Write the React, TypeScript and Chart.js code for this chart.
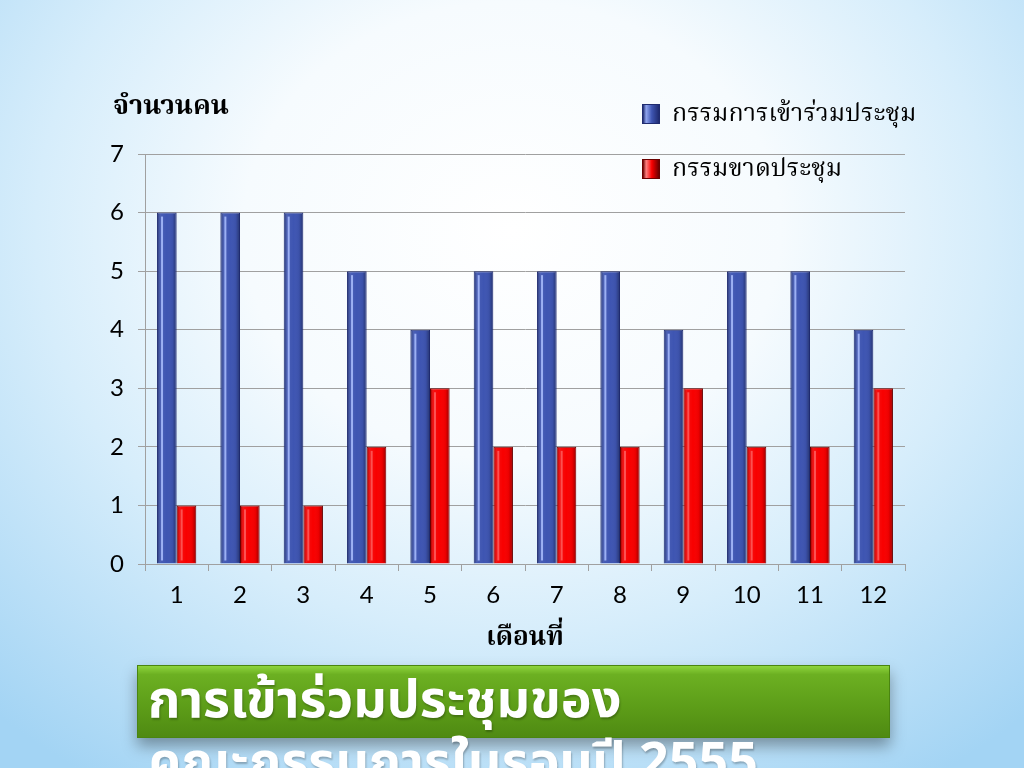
import React, { useEffect, useRef } from "react";
import { Chart, registerables } from "chart.js";

Chart.register(...registerables);

const months = ["1", "2", "3", "4", "5", "6", "7", "8", "9", "10", "11", "12"];
const attended = [6, 6, 6, 5, 4, 5, 5, 5, 4, 5, 5, 4];
const absent = [1, 1, 1, 2, 3, 2, 2, 2, 3, 2, 2, 3];
const seriesNames = ["กรรมการเข้าร่วมประชุม", "กรรมขาดประชุม"];
const yTitle = "จำนวนคน";
const xTitle = "เดือนที่";
const bannerLines = ["การเข้าร่วมประชุมของ", "คณะกรรมการในรอบปี 2555"];
const yMin = 0;
const yMax = 7;

const thaiSerif = '"Noto Serif Thai", "Norasi", "Garuda", "Loma", "DejaVu Serif", serif';
const thaiSans = '"Noto Sans Thai", "Loma", "Garuda", "Noto Sans", "DejaVu Sans", sans-serif';
const numFont = 'Lato, "Open Sans", "Liberation Sans", sans-serif';

const bevelPlugin = {
  id: "bevel",
  afterDatasetsDraw(chart: any) {
    const ctx = chart.ctx;
    chart.data.datasets.forEach((_ds: any, di: number) => {
      const meta = chart.getDatasetMeta(di);
      meta.data.forEach((bar: any) => {
        const { x, y, base, width } = bar.getProps(["x", "y", "base", "width"], true);
        const l = x - width / 2 + 1;
        const w = width - 2;
        const t = y + 1;
        const h = base - y - 2;
        if (h <= 0) return;
        ctx.save();
        const g = ctx.createLinearGradient(l, 0, l + w, 0);
        g.addColorStop(0, "rgba(0,0,0,0.28)");
        g.addColorStop(0.18, "rgba(255,255,255,0.05)");
        g.addColorStop(0.5, "rgba(255,255,255,0.0)");
        g.addColorStop(0.82, "rgba(0,0,0,0.05)");
        g.addColorStop(1, "rgba(0,0,0,0.3)");
        ctx.fillStyle = g;
        ctx.fillRect(l, t, w, h);
        ctx.fillStyle = di === 0 ? "rgba(165,185,250,0.9)" : "rgba(255,140,140,0.55)";
        ctx.fillRect(l + 3, t + 3, 2, h - 5);
        ctx.restore();
      });
    });
  },
};

function BarChart() {
  const ref = useRef<HTMLCanvasElement | null>(null);
  useEffect(() => {
    if (!ref.current) return;
    const chart = new Chart(ref.current, {
      type: "bar",
      data: {
        labels: months,
        datasets: [
          {
            label: seriesNames[0],
            data: attended,
            backgroundColor: "#3e55b2",
            borderColor: "#1f2b70",
            borderWidth: 1,
            categoryPercentage: 0.62,
            barPercentage: 1.0,
          },
          {
            label: seriesNames[1],
            data: absent,
            backgroundColor: "#f80000",
            borderColor: "#6a0000",
            borderWidth: 1,
            categoryPercentage: 0.62,
            barPercentage: 1.0,
          },
        ],
      },
      options: {
        responsive: false,
        animation: false,
        devicePixelRatio: 1,
        layout: { padding: { top: 154, right: 119, left: 0, bottom: 112 } },
        plugins: {
          legend: { display: false },
          tooltip: { enabled: false },
        },
        scales: {
          y: {
            min: yMin,
            max: yMax,
            ticks: {
              stepSize: 1,
              color: "#000",
              font: { family: numFont, size: 24 },
              padding: 14,
            },
            grid: { color: "#a0a0a0", tickLength: 7, lineWidth: 1 },
            border: { color: "#a0a0a0" },
            afterFit: (s: any) => {
              s.width = 145;
            },
          },
          x: {
            ticks: {
              color: "#000",
              font: { family: numFont, size: 24 },
              padding: 10,
            },
            grid: { drawOnChartArea: false, tickLength: 7, color: "#a0a0a0", offset: true },
            border: { color: "#a0a0a0" },
            title: {
              display: true,
              text: xTitle,
              color: "#000",
              font: { family: thaiSerif, size: 26, weight: "bold" },
              padding: { top: 4, bottom: 0 },
            },
            afterFit: (s: any) => {
              s.height = 92;
            },
          },
        },
      },
      plugins: [bevelPlugin],
    } as any);
    return () => chart.destroy();
  }, []);
  return (
    <canvas
      ref={ref}
      width={1024}
      height={768}
      style={{ position: "absolute", left: 0, top: 0, width: 1024, height: 768 }}
    />
  );
}

const legendSwatch = (top: string, mid: string, edge: string): React.CSSProperties => ({
  width: 18,
  height: 20,
  border: `1px solid ${edge}`,
  boxSizing: "border-box",
  background: `linear-gradient(90deg, ${edge} 0%, ${top} 20%, ${mid} 55%, ${edge} 100%)`,
  marginRight: 12,
  flex: "none",
});

export default function App() {
  return (
    <div
      style={{
        position: "fixed",
        left: 0,
        top: 0,
        width: 1024,
        height: 768,
        overflow: "hidden",
        background:
          "radial-gradient(ellipse 75% 85% at 50% 30%, #ffffff 0%, #f6fbfe 35%, #d6edfb 62%, #a3d4f4 100%)",
      }}
    >
      <BarChart />
      <div
        style={{
          position: "absolute",
          left: 113,
          top: 89,
          fontFamily: thaiSerif,
          fontWeight: "bold",
          fontSize: 27,
          lineHeight: "36px",
          color: "#000",
          whiteSpace: "nowrap",
        }}
      >
        {yTitle}
      </div>
      <div style={{ position: "absolute", left: 642, top: 94, fontFamily: thaiSerif, color: "#000" }}>
        <div style={{ display: "flex", alignItems: "center", height: 40, fontSize: 25, whiteSpace: "nowrap" }}>
          <div style={legendSwatch("#8fa4ee", "#3e55b2", "#1f2b70")} />
          {seriesNames[0]}
        </div>
        <div
          style={{
            display: "flex",
            alignItems: "center",
            height: 40,
            marginTop: 15,
            fontSize: 25,
            whiteSpace: "nowrap",
          }}
        >
          <div style={legendSwatch("#ff8080", "#f80000", "#6a0000")} />
          {seriesNames[1]}
        </div>
      </div>
      <div
        style={{
          position: "absolute",
          left: 137,
          top: 665,
          width: 753,
          height: 73,
          background: "linear-gradient(180deg, #8ed43c 0%, #6cb022 12%, #5c9c18 60%, #4f8a12 100%)",
          boxShadow: "0 8px 14px rgba(0,0,0,0.35)",
          border: "1px solid #4a8510",
          boxSizing: "border-box",
        }}
      />
      <div
        style={{
          position: "absolute",
          left: 148,
          top: 670,
          fontFamily: thaiSans,
          fontWeight: "bold",
          fontSize: 52,
          lineHeight: "62px",
          color: "#ffffff",
          whiteSpace: "nowrap",
          textShadow: "1px 2px 2px rgba(0,0,0,0.25)",
        }}
      >
        <div>{bannerLines[0]}</div>
        <div>{bannerLines[1]}</div>
      </div>
    </div>
  );
}
